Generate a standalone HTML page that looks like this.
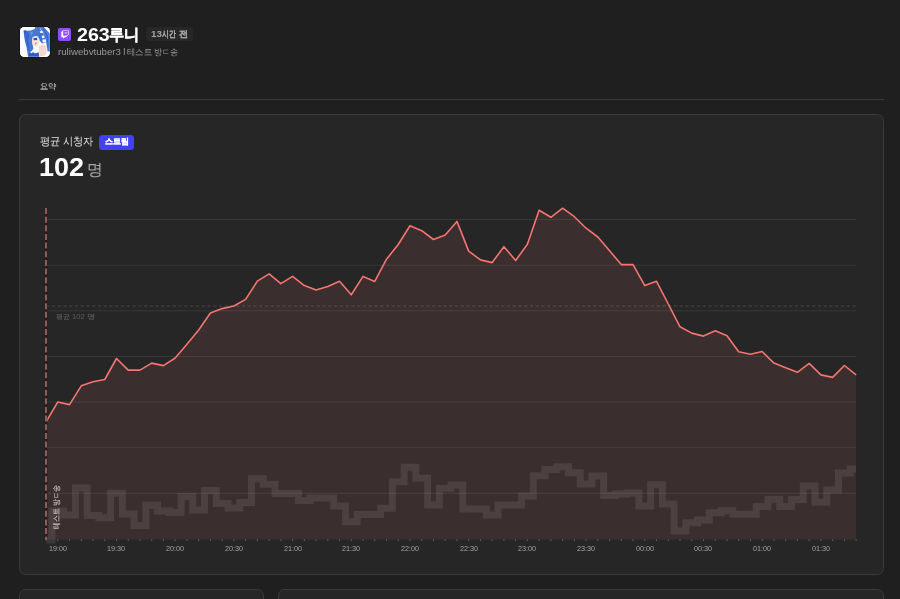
<!DOCTYPE html>
<html><head><meta charset="utf-8">
<style>
*{box-sizing:border-box;margin:0;padding:0}
html,body{width:900px;height:599px;overflow:hidden;background:#1f1f1f;font-family:"Liberation Sans",sans-serif;color:#fff}
#w{position:absolute;left:0;top:0;width:900px;height:599px;will-change:transform}
.abs{position:absolute}
.t{position:absolute;line-height:1;white-space:nowrap;transform-origin:0 0}
.xl{width:56px;text-align:center;color:#a6a6a6}
.vt{position:absolute;left:51.66px;top:528.87px;font-size:8.43px;line-height:1;white-space:nowrap;color:#cdc2c2;-webkit-text-stroke:0.15px #cdc2c2;transform-origin:0 0;transform:rotate(-90deg) scaleX(0.875)}
.avatar{left:20px;top:26.85px;width:29.8px;height:29.7px;border-radius:4.6px;overflow:hidden;background:#fff;box-shadow:0 0 0 0.8px #141414}
.tw{left:58.3px;top:28px;width:13.2px;height:13px;border-radius:2px;background:#8f4dfd}
.agobg{left:146px;top:27px;width:46.7px;height:14.3px;background:#272727;border-radius:3px}
.sep{left:18.8px;top:99.1px;width:865.2px;height:1.3px;background:#3b3b3b}
.card{border:1.7px solid #3a3a3a;background:#262626;border-radius:6.5px}
.c1{left:19px;top:114px;width:865px;height:460.5px}
.c2{left:19px;top:588.9px;width:244.6px;height:40px;border-width:1.4px}
.c3{left:277.8px;top:588.9px;width:606.2px;height:40px;border-width:1.4px}
.badge{left:98.8px;top:135px;width:35.3px;height:15px;background:#4341f8;border-radius:3.5px}
.chart{position:absolute;left:0;top:0}
</style></head><body><div id="w">
<div class="abs avatar"><svg width="29.8" height="29.7" viewBox="0 0 29.8 29.7">
<rect width="29.8" height="29.7" fill="#fcfcfe"/>
<path d="M3.8,4 L7,3.8 L11,3.4 L14.5,2 L15.4,0 L19.6,0 L21,3.4 L23.4,7 L22.4,9.2 L20.8,11.2 L19.6,12.6 L18.6,10.8 L17,9 L14.4,9.4 L12.6,11.5 L12.2,15 L13.4,21.8 L10.5,25.8 L9.2,29.7 L8.1,29.7 L6.5,20 L5.1,15 L4.2,10 L3.8,6 Z" fill="#4677d6"/>
<path d="M5,6 L7.5,5 L9,8 L8,14 L9.6,20 L8.6,24 L7,19 L6,13 Z" fill="#3560c6" opacity="0.8"/>
<path d="M10,5 L13,4.5 L12,9 L11,8 Z" fill="#6a9be6" opacity="0.8"/>
<path d="M19.5,0 L23.8,0 L27,3.4 L29.8,6.6 L29.8,24.5 L27.6,24.5 L26.2,15.2 L23.8,7.2 Z" fill="#4b7edb"/>
<path d="M22.2,0 L23.2,0 L27.6,9 L28.6,20 L27.8,20 L26.6,10 Z" fill="#2f55b8" opacity="0.7"/>
<path d="M15.4,0 L19.6,0 L19.8,2.8 L16,3.4 Z" fill="#5a6fd4"/>
<path d="M19.4,6 L23.4,6.8 L26.2,15.2 L22,16.5 L19.2,13 Z" fill="#3f6fd2"/>
<path d="M19.8,4 L23,4.2 L23,6.1 L20.2,6 Z" fill="#f6eef2"/>
<path d="M21.7,8.8 L24,8.6 L24.3,11 L22,11.2 Z" fill="#eef1fa"/>
<path d="M22.4,12.4 L25.8,12.2 L26.2,15.2 L22.6,15.4 Z" fill="#f2f3fb"/>
<path d="M12.6,10 L17,9 L19.4,12 L19,17 L16.5,19.6 L13.2,19 L11.9,15 Z" fill="#f6e2d7"/>
<path d="M13.4,11.2 L17.2,10.8 L17.1,12.9 L13.7,13.3 Z" fill="#2c4fb6"/>
<path d="M15,15.8 L16.6,15.6 L16.2,17.4 L15.2,17.3 Z" fill="#d4706c"/>
<path d="M19,18.5 L24,17.5 L26.6,19.6 L26.6,26 L24.2,29 L20,29.2 L18.8,25 Z" fill="#f4dacd"/>
<path d="M9.2,25.8 L13,25 L15,26.5 L18.6,25.3 L19.2,29.7 L8.5,29.7 Z" fill="#2e5bc6"/>
<path d="M10.2,25.2 L14,22.6 L15.2,23.4 L11.2,26.4 Z" fill="#ffffff"/>
<path d="M3.6,3.6 L6.4,3.2 L6,5.8 L4.2,6.4 Z" fill="#2e56bd"/>
</svg></div>
<div class="abs tw"><svg width="13.4" height="13" viewBox="0 0 13.4 13"><g transform="translate(2.7,1.4) scale(0.36,0.345)"><path fill="#fff" d="M11.571 4.714h1.715v5.143H11.57zm4.715 0H18v5.143h-1.714zM6 0L1.714 4.286v15.428h5.143V24l4.286-4.286h3.428L22.286 12V0zm14.571 11.143l-3.428 3.428h-3.429l-3 3v-3H6.857V1.714h13.714Z"/></g></svg></div>
<div class="abs agobg"></div>
<div class="abs sep"></div>
<div class="abs card c1"></div>
<div class="abs card c2"></div>
<div class="abs card c3"></div>
<div class="abs badge"></div>
<svg class="chart" width="900" height="599" viewBox="0 0 900 599">
<path d="M46.05,421.80 L57.79,402.00 L69.53,404.60 L81.27,385.80 L93.01,381.70 L104.75,379.50 L116.49,358.50 L128.23,370.10 L139.97,370.10 L151.71,363.10 L163.45,365.60 L175.19,358.00 L186.93,344.30 L198.67,330.00 L210.41,313.00 L222.15,308.60 L233.89,306.00 L245.63,299.40 L257.37,281.10 L269.11,273.90 L280.85,283.60 L292.59,276.40 L304.33,285.60 L316.07,290.00 L327.81,286.50 L339.55,281.20 L351.29,294.80 L363.03,276.40 L374.77,281.40 L386.51,259.20 L398.25,244.50 L409.99,225.80 L421.73,230.70 L433.47,239.50 L445.21,235.10 L456.95,221.40 L468.69,251.10 L480.43,259.90 L492.17,262.60 L503.91,246.70 L515.65,260.50 L527.39,244.20 L539.13,210.30 L550.87,217.30 L562.61,208.20 L574.35,216.70 L586.09,228.20 L597.83,237.00 L609.57,250.80 L621.31,264.60 L633.05,264.60 L644.79,285.60 L656.53,281.30 L668.27,304.00 L680.01,326.80 L691.75,333.10 L703.49,336.10 L715.23,330.80 L726.97,335.80 L738.71,351.80 L750.45,354.20 L762.19,351.50 L773.93,363.10 L785.67,367.70 L797.41,372.30 L809.15,363.40 L820.89,374.90 L832.63,377.40 L844.37,365.50 L856.11,374.90 L856.11,539.5 L46.05,539.5 Z" fill="rgba(248,113,113,0.10)"/>
<path d="M46.05,540.00 H51.92 V511.00 H63.66 V515.00 H75.40 V488.00 H87.14 V515.50 H98.88 V517.70 H110.62 V493.30 H122.36 V514.00 H134.10 V525.50 H145.84 V505.20 H157.58 V511.00 H169.32 V512.50 H181.06 V496.50 H192.80 V510.00 H204.54 V490.40 H216.28 V503.50 H228.02 V508.00 H239.76 V502.50 H251.50 V478.70 H263.24 V484.20 H274.98 V493.50 H286.72 V493.50 H298.46 V500.50 H310.20 V498.00 H321.94 V498.00 H333.68 V506.00 H345.42 V521.70 H357.16 V514.40 H368.90 V514.40 H380.64 V508.30 H392.38 V481.70 H404.12 V467.20 H415.86 V478.30 H427.60 V505.00 H439.34 V488.30 H451.08 V485.00 H462.82 V509.00 H474.56 V509.00 H486.30 V515.00 H498.04 V505.00 H509.78 V505.00 H521.52 V496.00 H533.26 V475.70 H545.00 V469.40 H556.74 V466.80 H568.48 V472.80 H580.22 V484.00 H591.96 V476.00 H603.70 V495.50 H615.44 V494.00 H627.18 V493.00 H638.92 V506.00 H650.66 V484.80 H662.40 V504.00 H674.14 V531.00 H685.88 V522.80 H697.62 V520.00 H709.36 V512.80 H721.10 V510.80 H732.84 V514.20 H744.58 V514.20 H756.32 V506.40 H768.06 V499.20 H779.80 V506.40 H791.54 V499.40 H803.28 V486.00 H815.02 V502.30 H826.76 V490.00 H838.50 V473.10 H850.24 V469.00 H856.11" fill="none" stroke="rgba(205,195,195,0.12)" stroke-width="7"/>
<g stroke="rgba(255,255,255,0.085)" stroke-width="1"><line x1="46.05" x2="856.11" y1="219.6" y2="219.6"/><line x1="46.05" x2="856.11" y1="265.2" y2="265.2"/><line x1="46.05" x2="856.11" y1="310.8" y2="310.8"/><line x1="46.05" x2="856.11" y1="356.4" y2="356.4"/><line x1="46.05" x2="856.11" y1="402" y2="402"/><line x1="46.05" x2="856.11" y1="447.6" y2="447.6"/><line x1="46.05" x2="856.11" y1="493.2" y2="493.2"/></g>
<line x1="46.05" x2="856.11" y1="306" y2="306" stroke="rgba(255,255,255,0.17)" stroke-width="1.1" stroke-dasharray="3.2 2.56"/>
<path d="M46.05,421.80 L57.79,402.00 L69.53,404.60 L81.27,385.80 L93.01,381.70 L104.75,379.50 L116.49,358.50 L128.23,370.10 L139.97,370.10 L151.71,363.10 L163.45,365.60 L175.19,358.00 L186.93,344.30 L198.67,330.00 L210.41,313.00 L222.15,308.60 L233.89,306.00 L245.63,299.40 L257.37,281.10 L269.11,273.90 L280.85,283.60 L292.59,276.40 L304.33,285.60 L316.07,290.00 L327.81,286.50 L339.55,281.20 L351.29,294.80 L363.03,276.40 L374.77,281.40 L386.51,259.20 L398.25,244.50 L409.99,225.80 L421.73,230.70 L433.47,239.50 L445.21,235.10 L456.95,221.40 L468.69,251.10 L480.43,259.90 L492.17,262.60 L503.91,246.70 L515.65,260.50 L527.39,244.20 L539.13,210.30 L550.87,217.30 L562.61,208.20 L574.35,216.70 L586.09,228.20 L597.83,237.00 L609.57,250.80 L621.31,264.60 L633.05,264.60 L644.79,285.60 L656.53,281.30 L668.27,304.00 L680.01,326.80 L691.75,333.10 L703.49,336.10 L715.23,330.80 L726.97,335.80 L738.71,351.80 L750.45,354.20 L762.19,351.50 L773.93,363.10 L785.67,367.70 L797.41,372.30 L809.15,363.40 L820.89,374.90 L832.63,377.40 L844.37,365.50 L856.11,374.90" fill="none" stroke="#f6756f" stroke-width="1.6" stroke-linejoin="round"/>
<line x1="46" x2="46" y1="208" y2="540" stroke="#1d1d1d" stroke-width="2.4"/><line x1="46" x2="46" y1="208" y2="540" stroke="#ab6d6c" stroke-width="1.6" stroke-dasharray="6 2.65"/>
<g stroke="rgba(255,255,255,0.3)" stroke-width="1"><line x1="57.79" x2="57.79" y1="539.5" y2="541"/><line x1="69.53" x2="69.53" y1="539.5" y2="541"/><line x1="81.27" x2="81.27" y1="539.5" y2="541"/><line x1="93.01" x2="93.01" y1="539.5" y2="541"/><line x1="104.75" x2="104.75" y1="539.5" y2="541"/><line x1="116.49" x2="116.49" y1="539.5" y2="541"/><line x1="128.23" x2="128.23" y1="539.5" y2="541"/><line x1="139.97" x2="139.97" y1="539.5" y2="541"/><line x1="151.71" x2="151.71" y1="539.5" y2="541"/><line x1="163.45" x2="163.45" y1="539.5" y2="541"/><line x1="175.19" x2="175.19" y1="539.5" y2="541"/><line x1="186.93" x2="186.93" y1="539.5" y2="541"/><line x1="198.67" x2="198.67" y1="539.5" y2="541"/><line x1="210.41" x2="210.41" y1="539.5" y2="541"/><line x1="222.15" x2="222.15" y1="539.5" y2="541"/><line x1="233.89" x2="233.89" y1="539.5" y2="541"/><line x1="245.63" x2="245.63" y1="539.5" y2="541"/><line x1="257.37" x2="257.37" y1="539.5" y2="541"/><line x1="269.11" x2="269.11" y1="539.5" y2="541"/><line x1="280.85" x2="280.85" y1="539.5" y2="541"/><line x1="292.59" x2="292.59" y1="539.5" y2="541"/><line x1="304.33" x2="304.33" y1="539.5" y2="541"/><line x1="316.07" x2="316.07" y1="539.5" y2="541"/><line x1="327.81" x2="327.81" y1="539.5" y2="541"/><line x1="339.55" x2="339.55" y1="539.5" y2="541"/><line x1="351.29" x2="351.29" y1="539.5" y2="541"/><line x1="363.03" x2="363.03" y1="539.5" y2="541"/><line x1="374.77" x2="374.77" y1="539.5" y2="541"/><line x1="386.51" x2="386.51" y1="539.5" y2="541"/><line x1="398.25" x2="398.25" y1="539.5" y2="541"/><line x1="409.99" x2="409.99" y1="539.5" y2="541"/><line x1="421.73" x2="421.73" y1="539.5" y2="541"/><line x1="433.47" x2="433.47" y1="539.5" y2="541"/><line x1="445.21" x2="445.21" y1="539.5" y2="541"/><line x1="456.95" x2="456.95" y1="539.5" y2="541"/><line x1="468.69" x2="468.69" y1="539.5" y2="541"/><line x1="480.43" x2="480.43" y1="539.5" y2="541"/><line x1="492.17" x2="492.17" y1="539.5" y2="541"/><line x1="503.91" x2="503.91" y1="539.5" y2="541"/><line x1="515.65" x2="515.65" y1="539.5" y2="541"/><line x1="527.39" x2="527.39" y1="539.5" y2="541"/><line x1="539.13" x2="539.13" y1="539.5" y2="541"/><line x1="550.87" x2="550.87" y1="539.5" y2="541"/><line x1="562.61" x2="562.61" y1="539.5" y2="541"/><line x1="574.35" x2="574.35" y1="539.5" y2="541"/><line x1="586.09" x2="586.09" y1="539.5" y2="541"/><line x1="597.83" x2="597.83" y1="539.5" y2="541"/><line x1="609.57" x2="609.57" y1="539.5" y2="541"/><line x1="621.31" x2="621.31" y1="539.5" y2="541"/><line x1="633.05" x2="633.05" y1="539.5" y2="541"/><line x1="644.79" x2="644.79" y1="539.5" y2="541"/><line x1="656.53" x2="656.53" y1="539.5" y2="541"/><line x1="668.27" x2="668.27" y1="539.5" y2="541"/><line x1="680.01" x2="680.01" y1="539.5" y2="541"/><line x1="691.75" x2="691.75" y1="539.5" y2="541"/><line x1="703.49" x2="703.49" y1="539.5" y2="541"/><line x1="715.23" x2="715.23" y1="539.5" y2="541"/><line x1="726.97" x2="726.97" y1="539.5" y2="541"/><line x1="738.71" x2="738.71" y1="539.5" y2="541"/><line x1="750.45" x2="750.45" y1="539.5" y2="541"/><line x1="762.19" x2="762.19" y1="539.5" y2="541"/><line x1="773.93" x2="773.93" y1="539.5" y2="541"/><line x1="785.67" x2="785.67" y1="539.5" y2="541"/><line x1="797.41" x2="797.41" y1="539.5" y2="541"/><line x1="809.15" x2="809.15" y1="539.5" y2="541"/><line x1="820.89" x2="820.89" y1="539.5" y2="541"/><line x1="832.63" x2="832.63" y1="539.5" y2="541"/><line x1="844.37" x2="844.37" y1="539.5" y2="541"/><line x1="856.11" x2="856.11" y1="539.5" y2="541"/></g>
</svg>
<div class="t" style="left:77.11px;top:26.98px;font-size:17.46px;font-weight:bold;color:#ffffff;transform:scaleX(1.127)">263</div>
<div class="t" style="left:109.43px;top:26.01px;font-size:16.17px;font-weight:bold;color:#ffffff;-webkit-text-stroke:0.018em #ffffff;transform:scaleX(0.958)">루니</div>
<div class="t" style="left:150.61px;top:28.86px;font-size:9.58px;font-weight:bold;color:#a3a3a3;transform:scaleX(1.024)">13</div>
<div class="t" style="left:161.7px;top:30.09px;font-size:8.74px;font-weight:bold;color:#a3a3a3;-webkit-text-stroke:0.02em #a3a3a3;transform:scaleX(0.77)">시간</div>
<div class="t" style="left:178.94px;top:30.08px;font-size:8.92px;font-weight:bold;color:#a3a3a3;-webkit-text-stroke:0.02em #a3a3a3;transform:scaleX(1.016)">전</div>
<div class="t" style="left:57.62px;top:48.61px;font-size:8.24px;font-weight:normal;color:#9a9a9a;transform:scaleX(1.175)">ruliwebvtuber3</div>
<div class="t" style="left:127.18px;top:47.85px;font-size:8.54px;font-weight:normal;color:#9a9a9a;transform:scaleX(0.93)">테스트</div>
<div class="t" style="left:153.91px;top:47.85px;font-size:8.54px;font-weight:normal;color:#9a9a9a;transform:scaleX(0.9)">방ㄷ송</div>
<div class="t" style="left:40.25px;top:82.92px;font-size:7.61px;font-weight:normal;color:#c6c6c6;-webkit-text-stroke:0.012em #c6c6c6;transform:scaleX(1.032)">요약</div>
<div class="t" style="left:40.19px;top:136.27px;font-size:11.35px;font-weight:normal;color:#e0e0e0;transform:scaleX(0.93)">평균</div>
<div class="t" style="left:63.3px;top:136.37px;font-size:11.35px;font-weight:normal;color:#e0e0e0;transform:scaleX(0.93)">시청자</div>
<div class="t" style="left:104.95px;top:137.92px;font-size:8.23px;font-weight:bold;color:#ffffff;-webkit-text-stroke:0.03em #ffffff;transform:scaleX(1.006)">스트림</div>
<div class="t" style="left:39.48px;top:154.71px;font-size:25.92px;font-weight:bold;color:#ffffff;transform:scaleX(1.04)">102</div>
<div class="t" style="left:87.27px;top:161.46px;font-size:16.44px;font-weight:normal;color:#a6a6a6;-webkit-text-stroke:0.008em #a6a6a6;transform:scaleX(0.992)">명</div>
<div class="t" style="left:56.02px;top:312.77px;font-size:7.03px;font-weight:normal;color:#5f5f5f;-webkit-text-stroke:0.015em #5f5f5f;transform:scaleX(1.001)">평균</div>
<div class="t" style="left:71.89px;top:312.64px;font-size:7.75px;font-weight:normal;color:#5f5f5f;transform:scaleX(0.989)">102</div>
<div class="t" style="left:86.86px;top:312.77px;font-size:7.03px;font-weight:normal;color:#5f5f5f;-webkit-text-stroke:0.015em #5f5f5f;transform:scaleX(1.197)">명</div>
<div class="t" style="left:123.01px;top:47.17px;font-size:7.77px;font-weight:normal;color:#9a9a9a;transform:scaleX(1.3)">|</div>
<div class="t xl" style="left:29.79px;top:545.2px;font-size:7.6px;transform:scaleX(0.95);transform-origin:28px 0">19:00</div><div class="t xl" style="left:88.49px;top:545.2px;font-size:7.6px;transform:scaleX(0.95);transform-origin:28px 0">19:30</div><div class="t xl" style="left:147.19px;top:545.2px;font-size:7.6px;transform:scaleX(0.95);transform-origin:28px 0">20:00</div><div class="t xl" style="left:205.89px;top:545.2px;font-size:7.6px;transform:scaleX(0.95);transform-origin:28px 0">20:30</div><div class="t xl" style="left:264.59px;top:545.2px;font-size:7.6px;transform:scaleX(0.95);transform-origin:28px 0">21:00</div><div class="t xl" style="left:323.29px;top:545.2px;font-size:7.6px;transform:scaleX(0.95);transform-origin:28px 0">21:30</div><div class="t xl" style="left:381.99px;top:545.2px;font-size:7.6px;transform:scaleX(0.95);transform-origin:28px 0">22:00</div><div class="t xl" style="left:440.69px;top:545.2px;font-size:7.6px;transform:scaleX(0.95);transform-origin:28px 0">22:30</div><div class="t xl" style="left:499.39px;top:545.2px;font-size:7.6px;transform:scaleX(0.95);transform-origin:28px 0">23:00</div><div class="t xl" style="left:558.0899999999999px;top:545.2px;font-size:7.6px;transform:scaleX(0.95);transform-origin:28px 0">23:30</div><div class="t xl" style="left:616.79px;top:545.2px;font-size:7.6px;transform:scaleX(0.95);transform-origin:28px 0">00:00</div><div class="t xl" style="left:675.49px;top:545.2px;font-size:7.6px;transform:scaleX(0.95);transform-origin:28px 0">00:30</div><div class="t xl" style="left:734.1899999999999px;top:545.2px;font-size:7.6px;transform:scaleX(0.95);transform-origin:28px 0">01:00</div><div class="t xl" style="left:792.89px;top:545.2px;font-size:7.6px;transform:scaleX(0.95);transform-origin:28px 0">01:30</div>
<div class="vt">테스트 방ㄷ송</div>
</div></body></html>
